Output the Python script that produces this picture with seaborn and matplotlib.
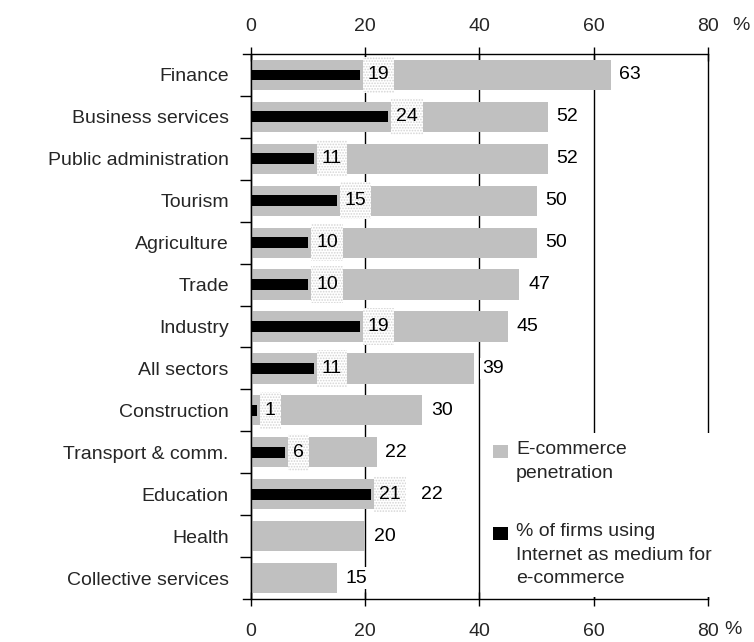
import matplotlib
matplotlib.use("Agg")
import matplotlib.pyplot as plt
import matplotlib.transforms as mtransforms
import seaborn as sns
import numpy as np
import pandas as pd
from matplotlib.patches import Rectangle

# --- data -----------------------------------------------------------------
sectors = [
    "Finance", "Business services", "Public administration", "Tourism",
    "Agriculture", "Trade", "Industry", "All sectors", "Construction",
    "Transport & comm.", "Education", "Health", "Collective services",
]
ecommerce = [63, 52, 52, 50, 50, 47, 45, 39, 30, 22, 22, 20, 15]
internet = [19, 24, 11, 15, 10, 10, 19, 11, 1, 6, 21, np.nan, np.nan]
x_ticks = [0, 20, 40, 60, 80]
legend_labels = [
    "E-commerce\npenetration",
    "% of firms using\nInternet as medium for\ne-commerce",
]

GRAY = "#c0c0c0"
FS = 14

sns.set_theme(style="white")
plt.rcParams["font.family"] = ["Liberation Sans", "DejaVu Sans"]
plt.rcParams["hatch.linewidth"] = 0.8

W, H = 754, 642
fig = plt.figure(figsize=(W / 100, H / 100), dpi=100)
fig.patch.set_facecolor("white")
ax = fig.add_axes([243 / W, 1 - 599 / H, (708 - 243) / W, (599 - 54) / H])

df = pd.DataFrame({"sector": sectors, "ecommerce": ecommerce, "internet": internet})

sns.barplot(data=df, y="sector", x="ecommerce", order=sectors, orient="h",
            color=GRAY, saturation=1, width=0.72, errorbar=None,
            linewidth=0, edgecolor="none", ax=ax, zorder=2)
sns.barplot(data=df.dropna(), y="sector", x="internet", order=sectors, orient="h",
            color="black", saturation=1, width=0.26, errorbar=None,
            linewidth=0, edgecolor="none", ax=ax, zorder=3)

# --- axes ------------------------------------------------------------------
ax.set_xlim(-1.4, 80)
ax.set_ylim(len(sectors) - 0.5, -0.5)
ax.set_xlabel("")
ax.set_ylabel("")
ax.set_facecolor("white")

for side in ("top", "bottom", "left"):
    ax.spines[side].set_visible(True)
    ax.spines[side].set_color("black")
    ax.spines[side].set_linewidth(1)
ax.spines["right"].set_visible(False)
ax.spines["left"].set_position(("data", 0))

ax.set_xticks(x_ticks)
ax.set_xticklabels([str(v) for v in x_ticks])
ax.tick_params(axis="x", which="major", top=True, bottom=True,
               labeltop=True, labelbottom=True, direction="inout",
               length=10, width=1, color="black", labelsize=FS, pad=12)
# nudge the top scale labels a little closer to the frame
shift_down = mtransforms.ScaledTranslation(0, -5 / 100, fig.dpi_scale_trans)
for tick in ax.xaxis.get_major_ticks():
    tick.label2.set_transform(tick.label2.get_transform() + shift_down)

ax.set_yticks(range(len(sectors)))
ax.set_yticklabels(sectors)
ax.set_yticks(np.arange(0.5, len(sectors) - 1, 1), minor=True)
ax.tick_params(axis="y", which="major", left=False, length=0,
               labelsize=FS, pad=16)
ax.tick_params(axis="y", which="minor", left=True, direction="out",
               length=8, width=1, color="black")

ax.set_axisbelow(True)
ax.xaxis.grid(True, color="black", linewidth=1)
ax.yaxis.grid(False)
for tick in ax.xaxis.get_major_ticks():
    tick.gridline.set_clip_on(False)

fig.text(741 / W, 1 - 25 / H, "%", ha="center", va="center", fontsize=FS)
fig.text(733 / W, 1 - 630 / H, "%", ha="center", va="center", fontsize=FS)

# --- value labels ----------------------------------------------------------
black_texts = []
for i, v in enumerate(internet):
    if np.isnan(v):
        black_texts.append(None)
        continue
    t = ax.text(v + 1.4, i, f"{v:.0f}", ha="left", va="center",
                fontsize=FS, color="black", zorder=6)
    black_texts.append(t)

fig.canvas.draw()
renderer = fig.canvas.get_renderer()
inv = ax.transData.inverted()

box_right = [None] * len(sectors)
for i, t in enumerate(black_texts):
    if t is None:
        continue
    bb = t.get_window_extent(renderer)
    x0 = inv.transform((bb.x0 - 5, 0))[0]
    x1 = inv.transform((bb.x1 + 5, 0))[0]
    box_right[i] = x1
    ax.add_patch(Rectangle((x0, i - 0.44), x1 - x0, 0.88,
                           facecolor="white", edgecolor="#d4d4d4",
                           linewidth=0, hatch="......", zorder=5))

for i, v in enumerate(ecommerce):
    xpos = v + 1.5
    if box_right[i] is not None and box_right[i] > v:
        xpos = max(xpos, box_right[i] + 2.6)
    ax.text(xpos, i, f"{v}", ha="left", va="center", fontsize=FS,
            color="black", zorder=6,
            bbox=dict(facecolor="white", edgecolor="none", pad=1.5))

# --- legend ----------------------------------------------------------------
ax.add_patch(Rectangle((486 / W, 1 - 597 / H), (754 - 486) / W, (597 - 433) / H,
                       transform=fig.transFigure, facecolor="white",
                       edgecolor="none", clip_on=False, zorder=1.5))
legend_colors = [GRAY, "black"]
legend_baselines = [458, 540]
for lab, col, base in zip(legend_labels, legend_colors, legend_baselines):
    ax.add_patch(Rectangle((493 / W, 1 - base / H), 15 / W, 13 / H,
                           transform=fig.transFigure, facecolor=col,
                           edgecolor="none", clip_on=False, zorder=3))
    fig.text(516 / W, 1 - (base - 17) / H, lab, ha="left", va="top",
             fontsize=FS, linespacing=1.5)

fig.savefig("out.png", dpi=100, facecolor="white")
